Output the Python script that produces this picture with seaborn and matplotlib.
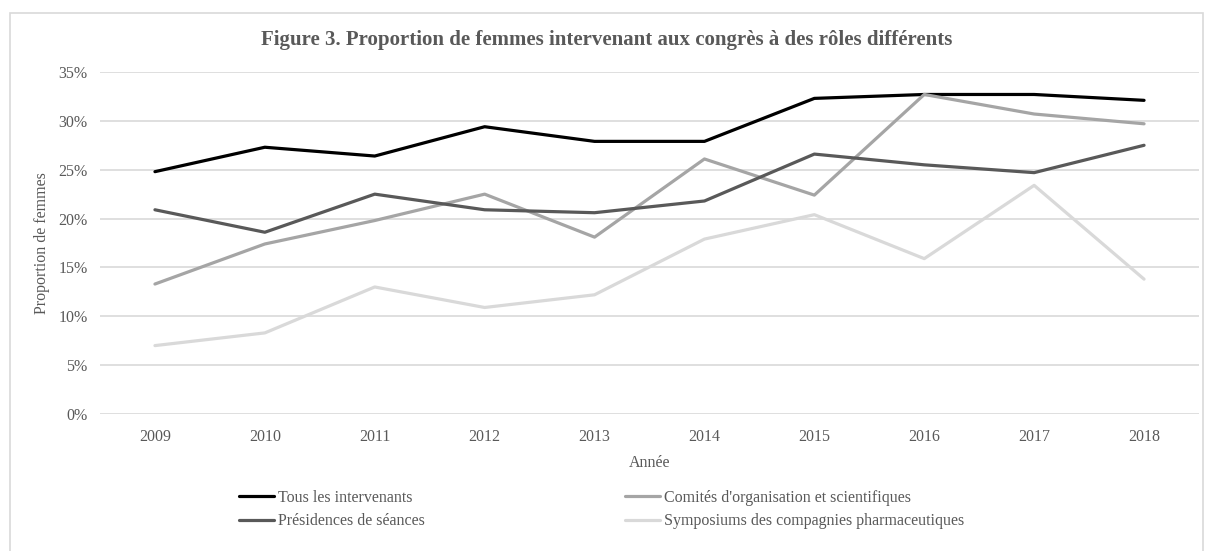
import matplotlib
matplotlib.use("Agg")
import matplotlib.pyplot as plt
import matplotlib.patches as mpatches
import seaborn as sns
import pandas as pd
from matplotlib.ticker import PercentFormatter

# ─────────────────────────────────────────────
# DATA (proportion de femmes, %)
# ─────────────────────────────────────────────
years = ["2009", "2010", "2011", "2012", "2013", "2014", "2015", "2016", "2017", "2018"]
tous = [24.8, 27.3, 26.4, 29.4, 27.9, 27.9, 32.3, 32.7, 32.7, 32.1]
comites = [13.3, 17.4, 19.8, 22.5, 18.1, 26.1, 22.4, 32.7, 30.7, 29.7]
presidences = [20.9, 18.6, 22.5, 20.9, 20.6, 21.8, 26.6, 25.5, 24.7, 27.5]
symposiums = [7.0, 8.3, 13.0, 10.9, 12.2, 17.9, 20.4, 15.9, 23.4, 13.8]

series_names = [
    "Tous les intervenants",
    "Comités d'organisation et scientifiques",
    "Présidences de séances",
    "Symposiums des compagnies pharmaceutiques",
]
series_vals = [tous, comites, presidences, symposiums]
colors = ["#000000", "#A5A5A5", "#595959", "#D9D9D9"]

df = pd.DataFrame({
    "Année": years * len(series_names),
    "Proportion": [v for vals in series_vals for v in vals],
    "Série": [n for n in series_names for _ in years],
})

# ─────────────────────────────────────────────
# PLOT
# ─────────────────────────────────────────────
sns.set_style("white")
plt.rcParams["font.family"] = ["Liberation Serif", "DejaVu Serif"]
TXT = "#595959"

fig = plt.figure(figsize=(12.13, 5.51), dpi=100)
ax = fig.add_axes([100 / 1213, 1 - 414 / 551, 1099 / 1213, 342 / 551])

sns.lineplot(
    data=df, x="Année", y="Proportion", hue="Série",
    hue_order=series_names, palette=colors, linewidth=2.3,
    sort=False, legend=False, ax=ax,
)

ax.set_xlim(-0.5, len(years) - 0.5)
ax.set_ylim(0, 35)
ax.set_yticks(range(0, 36, 5))
ax.yaxis.set_major_formatter(PercentFormatter(decimals=0))
ax.grid(axis="y", color="#D9D9D9", linewidth=1.2)
ax.set_axisbelow(True)
for s in ax.spines.values():
    s.set_visible(False)
ax.tick_params(axis="both", length=0, labelsize=11.5, colors=TXT)
ax.tick_params(axis="x", pad=11)
ax.tick_params(axis="y", pad=9)

ax.set_xlabel("Année", fontsize=11.5, color=TXT, labelpad=7)
ax.set_ylabel("Proportion de femmes", fontsize=11.5, color=TXT, labelpad=6)

fig.text(0.5, 1 - 40 / 551, "Figure 3. Proportion de femmes intervenant aux congrès à des rôles différents",
         ha="center", va="center", fontsize=15, fontweight="bold", color=TXT)

# legend filled column by column -> reorder so rows read like the reference
order = [0, 2, 1, 3]
handles = [plt.Line2D([], [], color=colors[i], linewidth=2.3) for i in order]
labels = [series_names[i] for i in order]
fig.legend(
    handles, labels, loc="upper left", ncol=2,
    bbox_to_anchor=(239 / 1213, 1 - 490 / 551),
    frameon=False, fontsize=11.5, labelcolor=TXT,
    handlelength=2.2, handletextpad=0.25, columnspacing=12.5,
    labelspacing=0.45, borderpad=0, borderaxespad=0,
)

# outer chart border
fig.patches.append(mpatches.Rectangle(
    (10 / 1213, -0.05), 1193 / 1213, 1 - 13 / 551 + 0.05,
    transform=fig.transFigure, fill=False, edgecolor="#D9D9D9", linewidth=1.2,
))

fig.savefig("out.png", dpi=100)
plt.close(fig)
